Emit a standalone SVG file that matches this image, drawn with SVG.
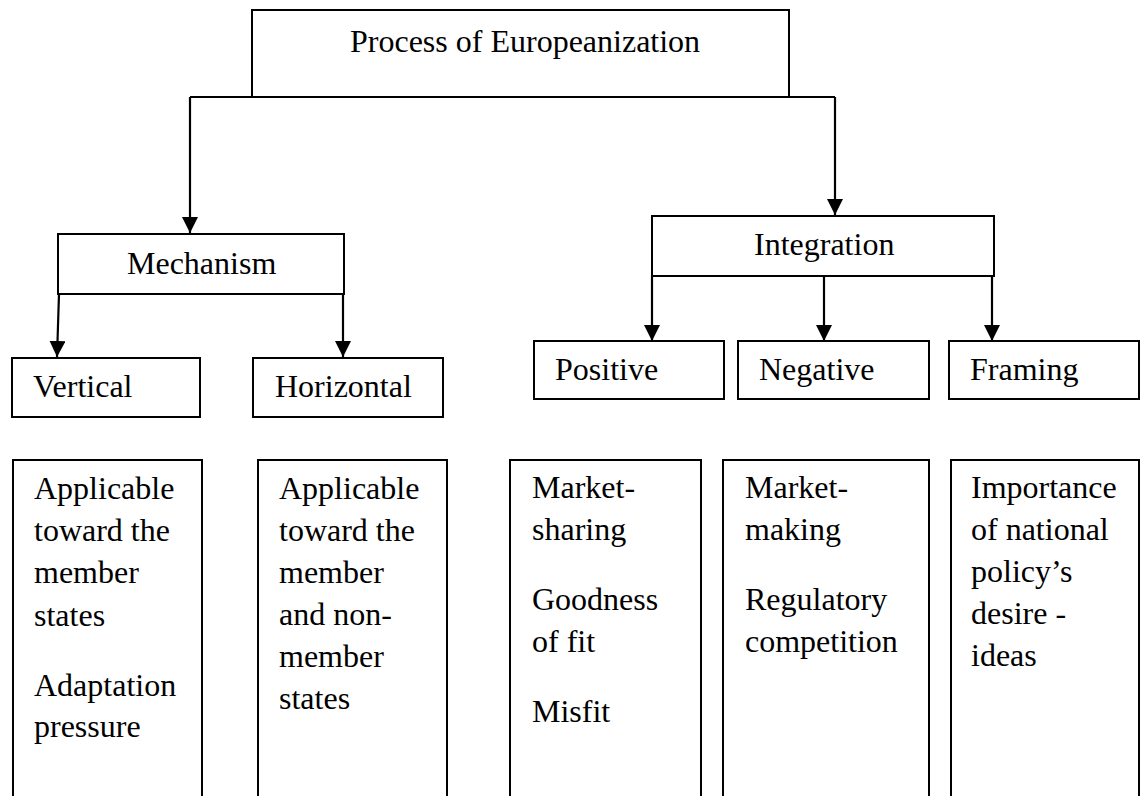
<svg xmlns="http://www.w3.org/2000/svg" width="1141" height="796" viewBox="0 0 1141 796">
<defs>
<style>
.box{fill:#fff;stroke:#000;stroke-width:2}
.ln{fill:none;stroke:#000;stroke-width:2.2}
text{font-family:"Liberation Serif","Times New Roman",serif;font-size:32px;fill:#000}
</style>
<marker id="arr" markerWidth="16" markerHeight="16" viewBox="0 0 16 16" refX="16" refY="8" orient="auto" markerUnits="userSpaceOnUse">
<path d="M0,0 L16,8 L0,16 Z" fill="#000"/>
</marker>
</defs>
<rect width="1141" height="796" fill="#fff"/>
<g id="connectors">
<path class="ln" d="M190,97 H835"/>
<path class="ln" d="M190,97 V233" marker-end="url(#arr)"/>
<path class="ln" d="M835,97 V215" marker-end="url(#arr)"/>
<path class="ln" d="M59,294 L57,357" marker-end="url(#arr)"/>
<path class="ln" d="M343,294 V357" marker-end="url(#arr)"/>
<path class="ln" d="M652,276 V341" marker-end="url(#arr)"/>
<path class="ln" d="M824,276 V341" marker-end="url(#arr)"/>
<path class="ln" d="M992,276 V341" marker-end="url(#arr)"/>
</g>
<g id="process">
<rect class="box" x="252" y="10" width="537" height="87"/>
<text x="350" y="52">Process of Europeanization</text>
</g>
<g id="mechanism">
<rect class="box" x="58" y="234" width="286" height="60"/>
<text x="127" y="274">Mechanism</text>
</g>
<g id="integration">
<rect class="box" x="652" y="216" width="342" height="60"/>
<text x="754" y="255">Integration</text>
</g>
<g id="vertical">
<rect class="box" x="12" y="358" width="188" height="59"/>
<text x="33" y="397">Vertical</text>
</g>
<g id="horizontal">
<rect class="box" x="253" y="358" width="190" height="59"/>
<text x="275" y="397">Horizontal</text>
</g>
<g id="positive">
<rect class="box" x="534" y="341" width="190" height="58"/>
<text x="555" y="380">Positive</text>
</g>
<g id="negative">
<rect class="box" x="738" y="341" width="191" height="58"/>
<text x="759" y="380">Negative</text>
</g>
<g id="framing">
<rect class="box" x="949" y="341" width="190" height="58"/>
<text x="970" y="380">Framing</text>
</g>
<g id="vertical-detail">
<rect class="box" x="13" y="460" width="189" height="360"/>
<text x="34" y="499">Applicable</text>
<text x="34" y="541">toward the</text>
<text x="34" y="583">member</text>
<text x="34" y="626">states</text>
<text x="34" y="696">Adaptation</text>
<text x="34" y="737">pressure</text>
</g>
<g id="horizontal-detail">
<rect class="box" x="258" y="460" width="189" height="360"/>
<text x="279" y="499">Applicable</text>
<text x="279" y="541">toward the</text>
<text x="279" y="583">member</text>
<text x="279" y="625">and non-</text>
<text x="279" y="667">member</text>
<text x="279" y="709">states</text>
</g>
<g id="positive-detail">
<rect class="box" x="510" y="460" width="191" height="360"/>
<text x="532" y="498">Market-</text>
<text x="532" y="540">sharing</text>
<text x="532" y="610">Goodness</text>
<text x="532" y="652">of fit</text>
<text x="532" y="722">Misfit</text>
</g>
<g id="negative-detail">
<rect class="box" x="723" y="460" width="206" height="360"/>
<text x="745" y="498">Market-</text>
<text x="745" y="540">making</text>
<text x="745" y="610">Regulatory</text>
<text x="745" y="652">competition</text>
</g>
<g id="framing-detail">
<rect class="box" x="951" y="460" width="188" height="360"/>
<text x="971" y="498">Importance</text>
<text x="971" y="540">of national</text>
<text x="971" y="582">policy’s</text>
<text x="971" y="624">desire -</text>
<text x="971" y="666">ideas</text>
</g>
</svg>
